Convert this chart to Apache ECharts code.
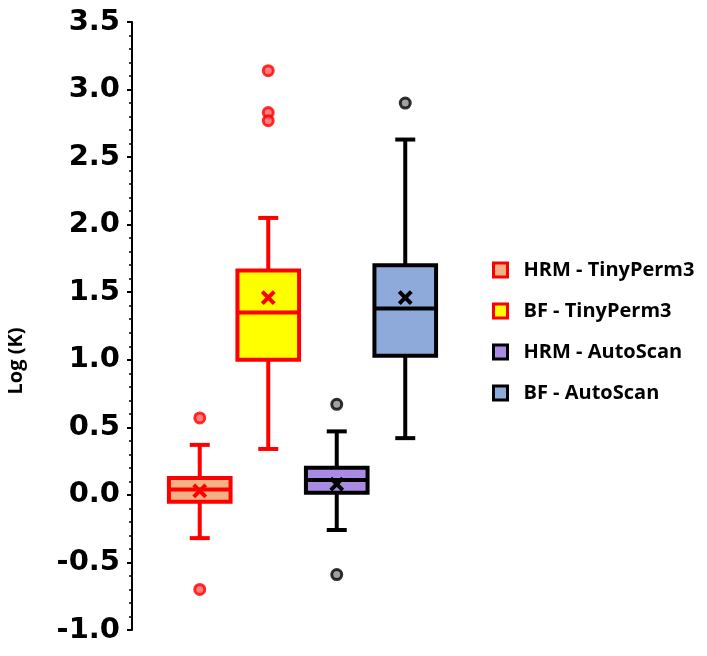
<!DOCTYPE html>
<html>
<head>
<meta charset="utf-8">
<style>
  html, body { margin: 0; padding: 0; background: #fff; }
  #chart { width: 707px; height: 656px; }
</style>
<script src="https://cdn.jsdelivr.net/npm/echarts@6/dist/echarts.min.js"></script>
</head>
<body>
<div id="chart"></div>
<script>
// categories
var groups = ['HRM - TinyPerm3', 'BF - TinyPerm3', 'HRM - AutoScan', 'BF - AutoScan'];

// box statistics per group (Log K)
var whiskerLow  = [-0.32, 0.34, -0.26, 0.42];
var quart1      = [-0.05, 1.00, 0.015, 1.03];
var medians     = [0.04, 1.35, 0.11, 1.38];
var quart3      = [0.125, 1.66, 0.20, 1.70];
var whiskerHigh = [0.37, 2.05, 0.47, 2.63];
var means       = [0.03, 1.46, 0.08, 1.46];

// outliers: [group index, value]
var outliers = [
    [0, 0.57], [0, -0.70],
    [1, 3.14], [1, 2.83], [1, 2.77],
    [2, 0.67], [2, -0.59],
    [3, 2.90]
];

// styles
var fillColors = ['#f4b183', '#ffff00', '#a98be3', '#8eaadb'];
var edgeColors = ['#ff0000', '#ff0000', '#000000', '#000000'];
var dotFill    = ['#ff5c5c', '#ff5c5c', '#8a8a8a', '#8a8a8a'];

var myChart = echarts.init(document.getElementById('chart'));

function renderBox(params, api) {
    var idx = api.value(0);
    var edge = edgeColors[idx];
    var band = api.size([1, 0])[0];
    var halfW = band * 0.45;
    var capHalf = 10;
    var lo = api.coord([idx, api.value(1)]);
    var q1 = api.coord([idx, api.value(2)]);
    var md = api.coord([idx, api.value(3)]);
    var q3 = api.coord([idx, api.value(4)]);
    var hi = api.coord([idx, api.value(5)]);
    var mn = api.coord([idx, api.value(6)]);
    var cx = lo[0];
    var lineStyle = { stroke: edge, lineWidth: 4 };
    var m = 6;
    return {
        type: 'group',
        children: [
            { type: 'line', shape: { x1: cx, y1: hi[1], x2: cx, y2: q3[1] }, style: lineStyle },
            { type: 'line', shape: { x1: cx, y1: q1[1], x2: cx, y2: lo[1] }, style: lineStyle },
            { type: 'line', shape: { x1: cx - capHalf, y1: hi[1], x2: cx + capHalf, y2: hi[1] }, style: lineStyle },
            { type: 'line', shape: { x1: cx - capHalf, y1: lo[1], x2: cx + capHalf, y2: lo[1] }, style: lineStyle },
            {
                type: 'rect',
                shape: { x: cx - halfW, y: q3[1], width: halfW * 2, height: q1[1] - q3[1] },
                style: { fill: fillColors[idx], stroke: edge, lineWidth: 4 }
            },
            { type: 'line', shape: { x1: cx - halfW, y1: md[1], x2: cx + halfW, y2: md[1] }, style: lineStyle },
            { type: 'line', shape: { x1: cx - m, y1: mn[1] - m, x2: cx + m, y2: mn[1] + m }, style: lineStyle },
            { type: 'line', shape: { x1: cx - m, y1: mn[1] + m, x2: cx + m, y2: mn[1] - m }, style: lineStyle }
        ]
    };
}

var series = groups.map(function (name, i) {
    return {
        name: name,
        type: 'custom',
        renderItem: renderBox,
        itemStyle: { color: fillColors[i], borderColor: edgeColors[i] },
        encode: { x: 0, y: [1, 2, 3, 4, 5, 6] },
        data: [[i, whiskerLow[i], quart1[i], medians[i], quart3[i], whiskerHigh[i], means[i]]],
        z: 2
    };
});

series.push({
    name: 'outliers',
    type: 'scatter',
    symbol: 'circle',
    symbolSize: 10,
    data: outliers.map(function (d) {
        return {
            value: d,
            itemStyle: { color: dotFill[d[0]], borderColor: edgeColors[d[0]], borderWidth: 3 }
        };
    }),
    z: 3
});

var option = {
    animation: false,
    backgroundColor: '#ffffff',
    grid: { left: 165.5, right: 267.5, top: 22, bottom: 26 },
    legend: {
        orient: 'vertical',
        left: 492,
        top: 258,
        padding: 0,
        itemWidth: 14,
        itemHeight: 14,
        itemGap: 17,
        icon: 'rect',
        textStyle: {
            fontFamily: 'Open Sans',
            fontWeight: 'bold',
            fontSize: 20,
            color: '#000',
            lineHeight: 24,
            padding: [0, 0, 0, 11]
        },
        data: groups.map(function (name, i) {
            return {
                name: name,
                itemStyle: { color: fillColors[i], borderColor: edgeColors[i], borderWidth: 3 }
            };
        })
    },
    xAxis: {
        type: 'category',
        data: groups,
        show: false
    },
    yAxis: {
        type: 'value',
        min: -1,
        max: 3.5,
        interval: 0.5,
        offset: 33.5,
        name: 'Log (K)',
        nameLocation: 'middle',
        nameGap: 106,
        nameTextStyle: {
            fontFamily: 'Open Sans',
            fontWeight: 'bold',
            fontSize: 20,
            color: '#000',
            padding: [0, 70, 0, 0]
        },
        splitLine: { show: false },
        axisLine: { show: true, lineStyle: { color: '#000', width: 2 } },
        axisTick: { show: true, length: 5, lineStyle: { color: '#000', width: 2 } },
        minorTick: { show: true, splitNumber: 5, length: 3, lineStyle: { color: '#000', width: 1.5 } },
        axisLabel: {
            margin: 12,
            fontFamily: 'DejaVu Sans',
            fontWeight: 'bold',
            fontSize: 29,
            color: '#000',
            formatter: function (v) { return v.toFixed(1); }
        }
    },
    series: series
};

myChart.setOption(option);
</script>
</body>
</html>
